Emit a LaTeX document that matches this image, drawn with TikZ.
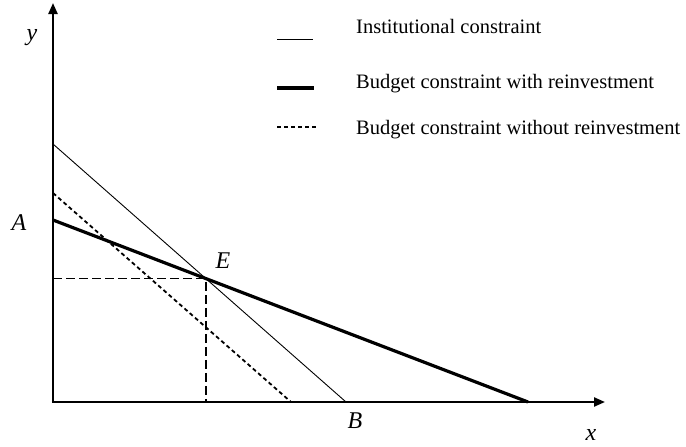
\documentclass[tikz,border=0pt]{standalone}
\usepackage{fontspec}
\setmainfont{Liberation Serif}
\usetikzlibrary{arrows.meta}
\begin{document}
\begin{tikzpicture}[x=1pt,y=1pt,
  axis/.style={line width=2.2pt,-{Triangle[length=11pt,width=9pt]}},
  thinln/.style={line width=0.9pt},
  thickln/.style={line width=3.2pt},
  dotln/.style={line width=1.8pt,dash pattern=on 4pt off 3pt},
  guide/.style={line width=1.8pt,dash pattern=on 9pt off 4pt},
  lab/.style={font=\fontsize{24}{26}\selectfont\itshape,inner sep=0pt},
  legtxt/.style={font=\fontsize{20.5}{24}\selectfont,anchor=base west,inner sep=0pt}]
\useasboundingbox (0,0) rectangle (686,-447);
% points
\coordinate (O) at (53,-402);
\coordinate (Ytop) at (53,-3);
\coordinate (Xtip) at (605,-402);
\coordinate (T1) at (53,-144);
\coordinate (T2) at (346,-402);
\coordinate (K1) at (53,-220);
\coordinate (K2) at (528,-402);
\coordinate (D1) at (53,-193);
\coordinate (D2) at (291,-402);
\coordinate (E) at (intersection of T1--T2 and K1--K2);
\coordinate (Ey) at (O |- E);
\coordinate (Ex) at (E |- O);
% lines
\draw[thinln] (T1) -- (T2);
\draw[dotln] (D1) -- (D2);
\draw[guide] (Ey) -- (E) -- (Ex);
\draw[thickln] (K1) -- (K2);
% axes
\draw[axis] (O) -- (Ytop);
\draw[axis] ([xshift=-1.1pt]O) -- (Xtip);
% labels
\node[lab] (ly) at (32,-38) {y};
\node[lab] (lA) at (19,-223) {A};
\node[lab] (lE) at (223,-261) {E};
\node[lab] (lB) at (355,-421) {B};
\node[lab] (lx) at (591,-435) {x};
% legend
\coordinate (L1a) at (277,-39); \coordinate (L1b) at (313,-39);
\coordinate (L2a) at (277,-88); \coordinate (L2b) at (314,-88);
\coordinate (L3a) at (277,-127); \coordinate (L3b) at (318,-127);
\draw[thinln] (L1a) -- (L1b);
\draw[thickln] (L2a) -- (L2b);
\draw[dotln] (L3a) -- (L3b);
\node[legtxt] (t1) at (356,-33) {Institutional constraint};
\node[legtxt] (t2) at (356,-88) {Budget constraint with reinvestment};
\node[legtxt] (t3) at (356,-134) {Budget constraint without reinvestment};
\end{tikzpicture}
\end{document}
